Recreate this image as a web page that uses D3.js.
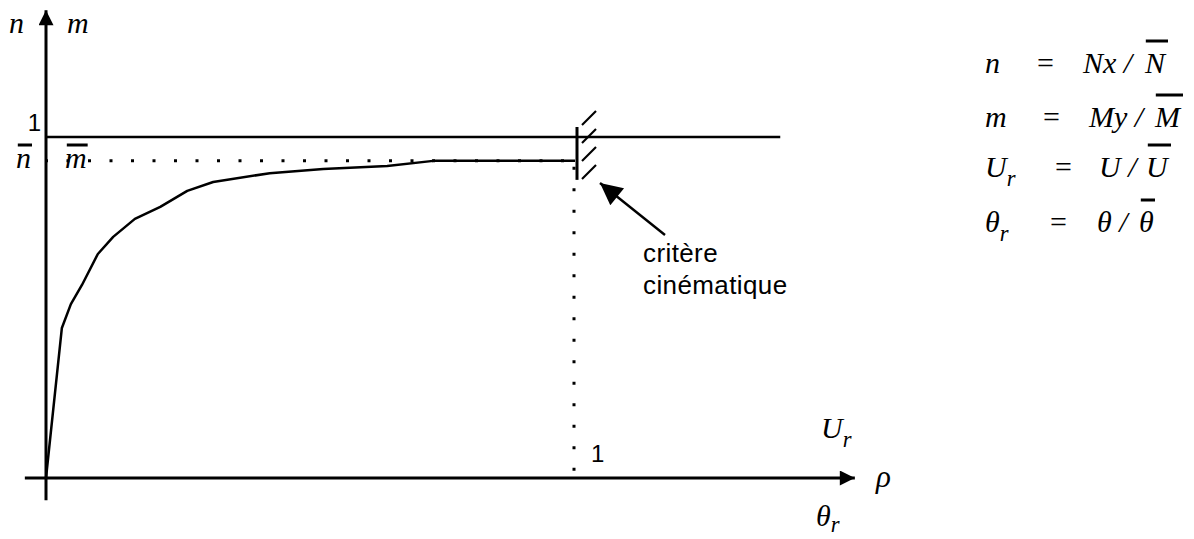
<!DOCTYPE html>
<html>
<head>
<meta charset="utf-8">
<script src="https://cdn.jsdelivr.net/npm/d3@7"></script>
<style>
  body { margin: 0; background: #fff; }
  svg { display: block; }
</style>
</head>
<body>
<svg id="chart" width="1194" height="539"></svg>
<script>
// curve n(rho) / m(rho)
const rho = [0, 0.030, 0.047, 0.068, 0.098, 0.127, 0.168, 0.216, 0.267, 0.316, 0.423, 0.524, 0.645, 0.732, 1.0];
const nm  = [0, 0.44, 0.51, 0.566, 0.657, 0.707, 0.76, 0.795, 0.842, 0.868, 0.894, 0.906, 0.915, 0.93, 0.93];
const nBar = 0.93;      // plateau level
const plasticLevel = 1; // horizontal "1" line
const rhoEnd = 1;       // cinematic criterion
const plasticLineEnd = 1.388;

const SERIF = "'Liberation Serif', 'Times New Roman', serif";
const SANS = "'Liberation Sans', Arial, sans-serif";

const svg = d3.select("#chart");

const x = d3.scaleLinear().domain([0, 1]).range([46, 575]);
const y = d3.scaleLinear().domain([0, 1]).range([478, 137]);

// arrow markers
const defs = svg.append("defs");
function marker(id, w, h) {
    defs.append("marker")
        .attr("id", id)
        .attr("viewBox", "0 0 10 10")
        .attr("refX", 10).attr("refY", 5)
        .attr("markerUnits", "userSpaceOnUse")
        .attr("markerWidth", w).attr("markerHeight", h)
        .attr("orient", "auto")
        .append("path").attr("d", "M0,0 L10,5 L0,10 Z").attr("fill", "#000");
}
marker("head", 29, 15);
marker("head2", 30, 22);

// axes
svg.append("line")
    .attr("x1", x(-0.04)).attr("y1", y(0))
    .attr("x2", x(1.529)).attr("y2", y(0))
    .attr("stroke", "#000").attr("stroke-width", 3)
    .attr("marker-end", "url(#head)");
svg.append("line")
    .attr("x1", x(0)).attr("y1", y(-0.065))
    .attr("x2", x(0)).attr("y2", y(1.372))
    .attr("stroke", "#000").attr("stroke-width", 3)
    .attr("marker-end", "url(#head)");

// level 1
svg.append("line")
    .attr("x1", x(0)).attr("y1", y(plasticLevel))
    .attr("x2", x(plasticLineEnd)).attr("y2", y(plasticLevel))
    .attr("stroke", "#000").attr("stroke-width", 2.5);

// dotted guides
svg.append("line")
    .attr("x1", x(0) - 1).attr("y1", y(nBar))
    .attr("x2", x(rhoEnd)).attr("y2", y(nBar))
    .attr("stroke", "#000").attr("stroke-width", 3)
    .attr("stroke-dasharray", "3,18.5");
svg.append("line")
    .attr("x1", x(rhoEnd) - 1).attr("y1", y(nBar) + 6)
    .attr("x2", x(rhoEnd) - 1).attr("y2", y(0) - 6)
    .attr("stroke", "#000").attr("stroke-width", 3)
    .attr("stroke-dasharray", "3,18.5");

// curve
const line = d3.line().x((d, i) => x(rho[i])).y(d => y(d));
svg.append("path")
    .datum(nm)
    .attr("d", line)
    .attr("fill", "none")
    .attr("stroke", "#000")
    .attr("stroke-width", 2.5)
    .attr("stroke-linejoin", "round");

// wall with hatching
const wx = x(rhoEnd) + 2;
svg.append("line")
    .attr("x1", wx).attr("y1", y(plasticLevel) - 10)
    .attr("x2", wx).attr("y2", y(nBar) + 19)
    .attr("stroke", "#000").attr("stroke-width", 3);
d3.range(4).forEach(i => {
    const top = y(plasticLevel) - 26 + i * 18;
    svg.append("line")
        .attr("x1", wx + 5).attr("y1", top + 14)
        .attr("x2", wx + 19).attr("y2", top)
        .attr("stroke", "#000").attr("stroke-width", 2.2);
});

// pointer to the wall
svg.append("line")
    .attr("x1", 665).attr("y1", 235)
    .attr("x2", 600).attr("y2", 183)
    .attr("stroke", "#000").attr("stroke-width", 2.5)
    .attr("marker-end", "url(#head2)");
svg.append("text").attr("font-family", SANS)
    .attr("x", 643).attr("y", 262).attr("font-size", 26)
    .attr("letter-spacing", 0.4).text("critère");
svg.append("text").attr("font-family", SANS)
    .attr("x", 643).attr("y", 294).attr("font-size", 26)
    .attr("letter-spacing", 0.4).text("cinématique");

// tick labels
svg.append("text").attr("font-family", SANS)
    .attr("x", x(0) - 5).attr("y", y(plasticLevel) - 6)
    .attr("text-anchor", "end").attr("font-size", 24).text("1");
svg.append("text").attr("font-family", SANS)
    .attr("x", x(rhoEnd) + 16).attr("y", y(0) - 16)
    .attr("font-size", 24).text("1");

function mathText(tx, ty, str, size) {
    return svg.append("text")
        .attr("font-family", SERIF).attr("font-style", "italic")
        .attr("x", tx).attr("y", ty).attr("font-size", size).text(str);
}

// italic symbol with overbar
function barred(tx, ty, str, size, lift) {
    const t = mathText(tx, ty, str, size);
    const b = t.node().getBBox();
    svg.append("line")
        .attr("x1", b.x + size * 0.06).attr("x2", b.x + b.width + 1)
        .attr("y1", ty - lift).attr("y2", ty - lift)
        .attr("stroke", "#000").attr("stroke-width", 3);
    return t;
}

function sub(tx, ty, main, s, size, drop) {
    const t = mathText(tx, ty, "", size);
    t.append("tspan").text(main);
    t.append("tspan").attr("font-size", size * 0.75).attr("dy", drop ?? size * 0.3).text(s);
    return t;
}

// axis names
mathText(9, 33, "n", 30);
mathText(67, 33, "m", 30);
barred(16, 168, "n", 30, 23);
barred(65, 168, "m", 30, 23);

sub(821, 438, "U", "r", 30);
mathText(876, 487, "ρ", 31);
sub(816, 526, "θ", "r", 30, 6);

// definitions on the right
const eqSize = 30;
const rows = [
    { lhs: "n", s: "", eqX: 1037, rhs: "Nx /", rx: 1083, bar: "N", bx: 1145, yy: 73 },
    { lhs: "m", s: "", eqX: 1043, rhs: "My /", rx: 1089, bar: "M", bx: 1155, yy: 127 },
    { lhs: "U", s: "r", eqX: 1055, rhs: "U /", rx: 1099, bar: "U", bx: 1146, yy: 177 },
    { lhs: "θ", s: "r", eqX: 1050, rhs: "θ /", rx: 1097, bar: "θ", bx: 1139, yy: 232 }
];
rows.forEach(r => {
    if (r.s) sub(985, r.yy, r.lhs, r.s, eqSize);
    else mathText(985, r.yy, r.lhs, eqSize);
    svg.append("text").attr("x", r.eqX).attr("y", r.yy)
        .attr("font-family", SERIF).attr("font-size", eqSize).text("=");
    mathText(r.rx, r.yy, r.rhs, eqSize);
    barred(r.bx, r.yy, r.bar, eqSize, 32);
});
</script>
</body>
</html>
